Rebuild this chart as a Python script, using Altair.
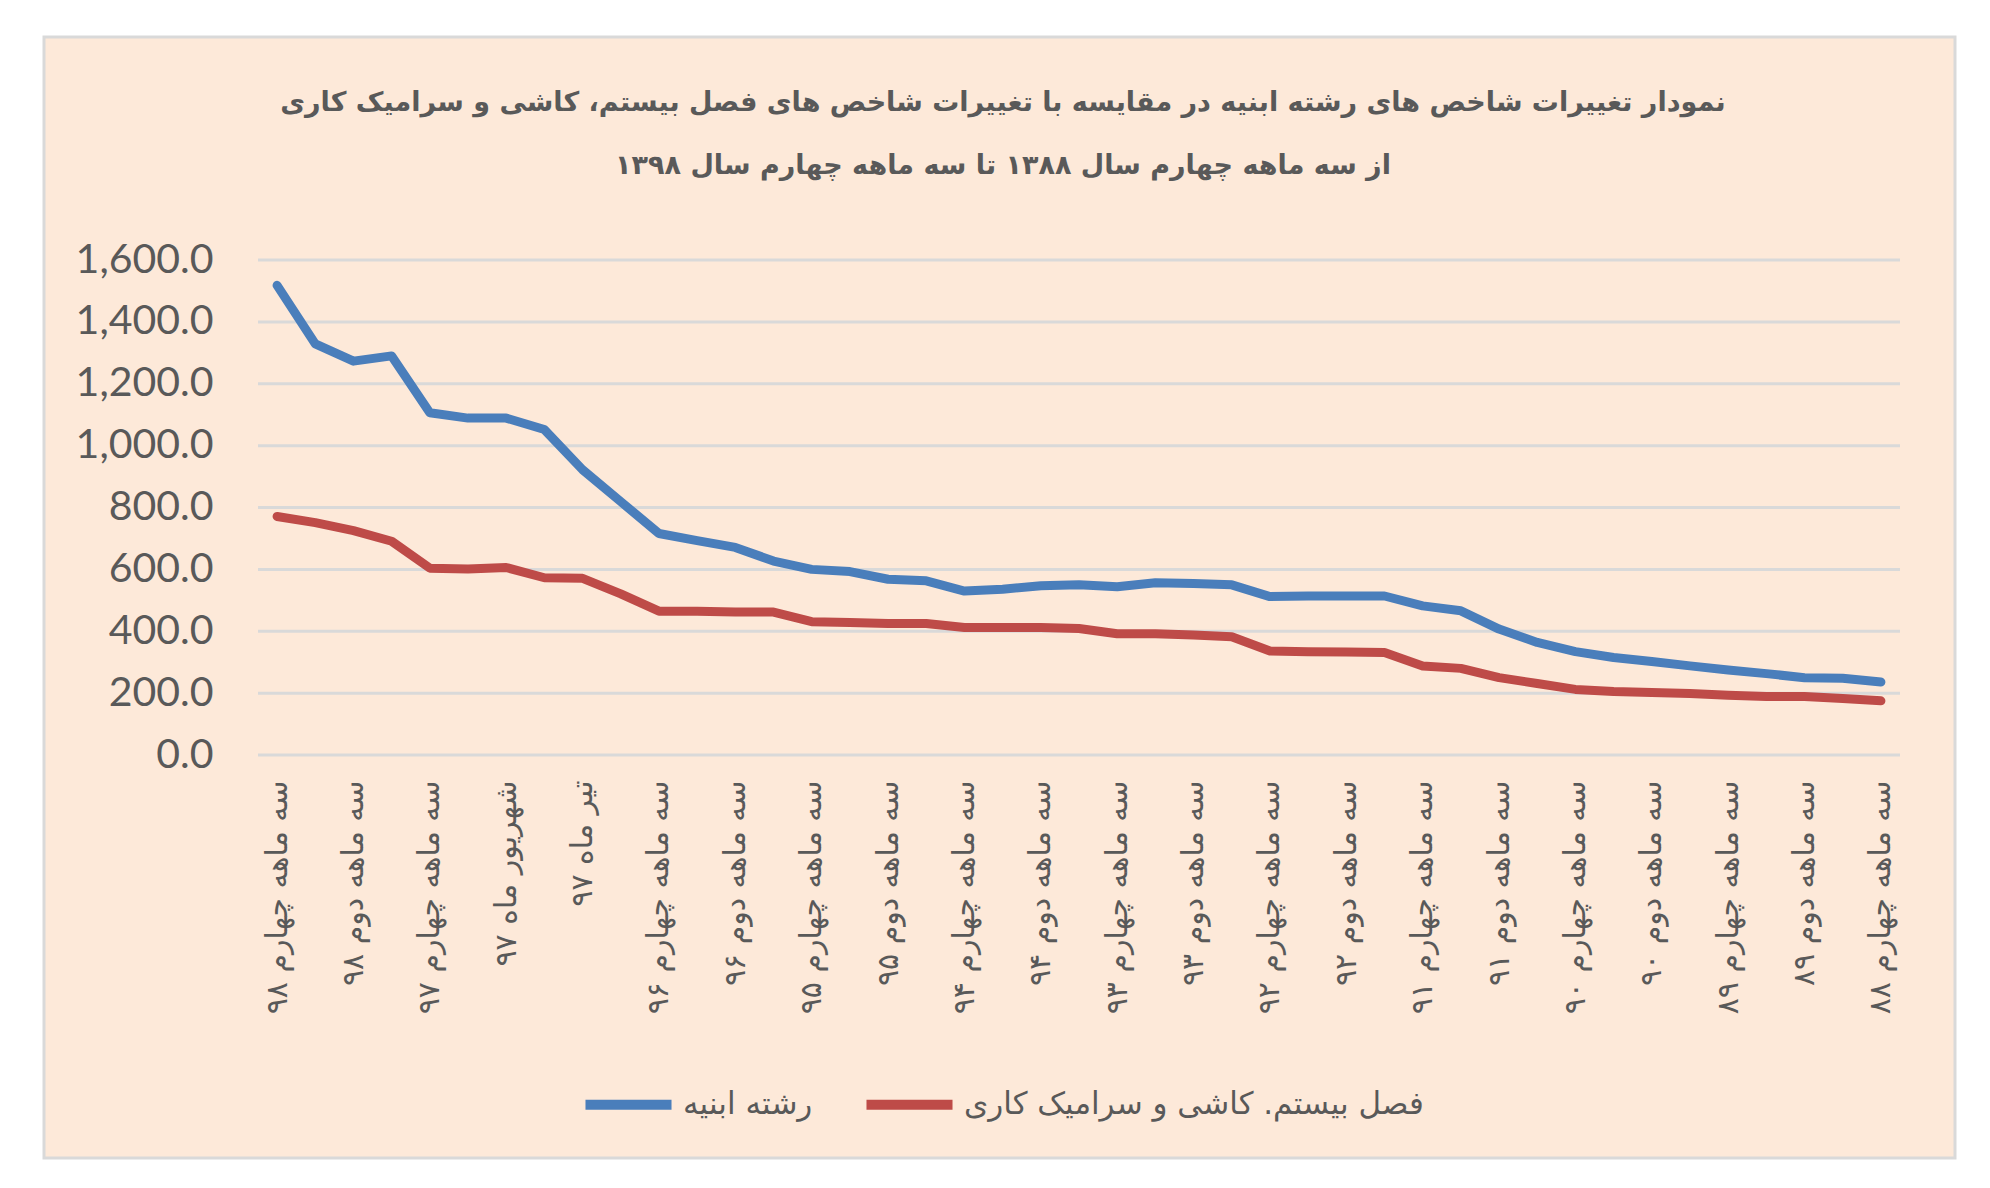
import altair as alt
import pandas as pd

periods = [
    "سه ماهه چهارم ۹۸", "سه ماهه سوم ۹۸", "سه ماهه دوم ۹۸", "سه ماهه اول ۹۸",
    "سه ماهه چهارم ۹۷", "سه ماهه سوم ۹۷", "شهریور ماه ۹۷", "مرداد ماه ۹۷",
    "تیر ماه ۹۷", "سه ماهه اول ۹۷",
    "سه ماهه چهارم ۹۶", "سه ماهه سوم ۹۶", "سه ماهه دوم ۹۶", "سه ماهه اول ۹۶",
    "سه ماهه چهارم ۹۵", "سه ماهه سوم ۹۵", "سه ماهه دوم ۹۵", "سه ماهه اول ۹۵",
    "سه ماهه چهارم ۹۴", "سه ماهه سوم ۹۴", "سه ماهه دوم ۹۴", "سه ماهه اول ۹۴",
    "سه ماهه چهارم ۹۳", "سه ماهه سوم ۹۳", "سه ماهه دوم ۹۳", "سه ماهه اول ۹۳",
    "سه ماهه چهارم ۹۲", "سه ماهه سوم ۹۲", "سه ماهه دوم ۹۲", "سه ماهه اول ۹۲",
    "سه ماهه چهارم ۹۱", "سه ماهه سوم ۹۱", "سه ماهه دوم ۹۱", "سه ماهه اول ۹۱",
    "سه ماهه چهارم ۹۰", "سه ماهه سوم ۹۰", "سه ماهه دوم ۹۰", "سه ماهه اول ۹۰",
    "سه ماهه چهارم ۸۹", "سه ماهه سوم ۸۹", "سه ماهه دوم ۸۹", "سه ماهه اول ۸۹",
    "سه ماهه چهارم ۸۸",
]

abnieh = [1518, 1329, 1273, 1290, 1106, 1089, 1089, 1052, 922, 819,
          716, 693, 671, 627, 600, 593, 568, 563, 530, 536,
          547, 550, 544, 557, 554, 550, 512, 514, 514, 514,
          482, 466, 407, 364, 334, 315, 302, 288, 275, 263,
          250, 248, 236]

kashi = [771, 751, 725, 691, 604, 601, 606, 573, 571, 521,
         465, 465, 462, 462, 431, 428, 425, 425, 412, 412,
         412, 409, 392, 392, 388, 382, 336, 334, 333, 331,
         288, 280, 250, 231, 212, 205, 202, 199, 193, 189,
         189, 183, 175]

series_names = ["رشته ابنیه", "فصل بیستم. کاشی و سرامیک کاری"]
series_colors = ["#4A7EBB", "#BE4B48"]

title_lines = [
    "نمودار تغییرات شاخص های رشته ابنیه در مقایسه با تغییرات شاخص های فصل بیستم، کاشی و سرامیک کاری",
    "از سه ماهه چهارم سال ۱۳۸۸ تا سه ماهه چهارم سال ۱۳۹۸",
]

y_ticks = [0, 200, 400, 600, 800, 1000, 1200, 1400, 1600]

rows = []
for i, p in enumerate(periods):
    rows.append({"period": p, "series": series_names[0], "value": abnieh[i]})
    rows.append({"period": p, "series": series_names[1], "value": kashi[i]})
df = pd.DataFrame(rows)
grid_df = pd.DataFrame({"value": y_ticks})

labeled = periods[::2]

FA = "DejaVu Sans"
TXT = "#595959"

y_scale = alt.Scale(domain=[0, 1600], nice=False)
y_axis = alt.Axis(
    values=y_ticks, format=",.1f", labelFont="Lato", labelFontSize=41,
    labelColor=TXT, labelPadding=45, domain=False, ticks=False, tickSize=0,
    grid=False, title=None, zindex=1,
)

bg = alt.Chart(pd.DataFrame({"k": [0]})).mark_rect(
    fill="#FDE9D9", stroke="#D9D9D9", strokeWidth=3
).encode(
    x=alt.value(-214), x2=alt.value(1697), y=alt.value(-223), y2=alt.value(898)
)

grid = alt.Chart(grid_df).mark_rule(color="#D9D9D9", strokeWidth=3).encode(
    y=alt.Y("value:Q", scale=y_scale, axis=y_axis)
)

lines = alt.Chart(df).mark_line(
    strokeWidth=9, strokeCap="round", strokeJoin="round"
).encode(
    x=alt.X(
        "period:N", sort=periods,
        scale=alt.Scale(type="point", padding=0.5),
        axis=alt.Axis(
            values=labeled, labelAngle=270, labelFont=FA, labelFontSize=30,
            labelColor=TXT, labelPadding=25, domain=False, ticks=False, tickSize=0,
            grid=False, title=None, zindex=1, labelOverlap=False, labelLimit=0,
        ),
    ),
    y=alt.Y("value:Q", scale=y_scale, axis=y_axis),
    color=alt.Color(
        "series:N",
        scale=alt.Scale(domain=series_names, range=series_colors),
        legend=alt.Legend(
            orient="none", legendX=322, legendY=796, direction="horizontal",
            title=None, labelFont=FA, labelFontSize=31, labelColor=TXT,
            symbolType="stroke", symbolStrokeWidth=10, symbolSize=7400,
            columnPadding=33, labelOffset=6, labelLimit=0, zindex=1,
        ),
    ),
)

chart = alt.layer(bg, grid, lines).properties(
    width=1642,
    height=495,
    autosize=alt.AutoSizeParams(type="none"),
    padding={"left": 250, "top": 252, "right": 82, "bottom": 425},
    background="white",
    title=alt.TitleParams(
        text=title_lines, font=FA, fontSize=27, fontWeight="bold", color=TXT,
        anchor="middle", frame="group", dx=-76, dy=144, offset=0, lineHeight=63, zindex=1,
    ),
).configure_view(stroke=None)

chart.save("out.html", embed_options={"renderer": "svg", "actions": False})
